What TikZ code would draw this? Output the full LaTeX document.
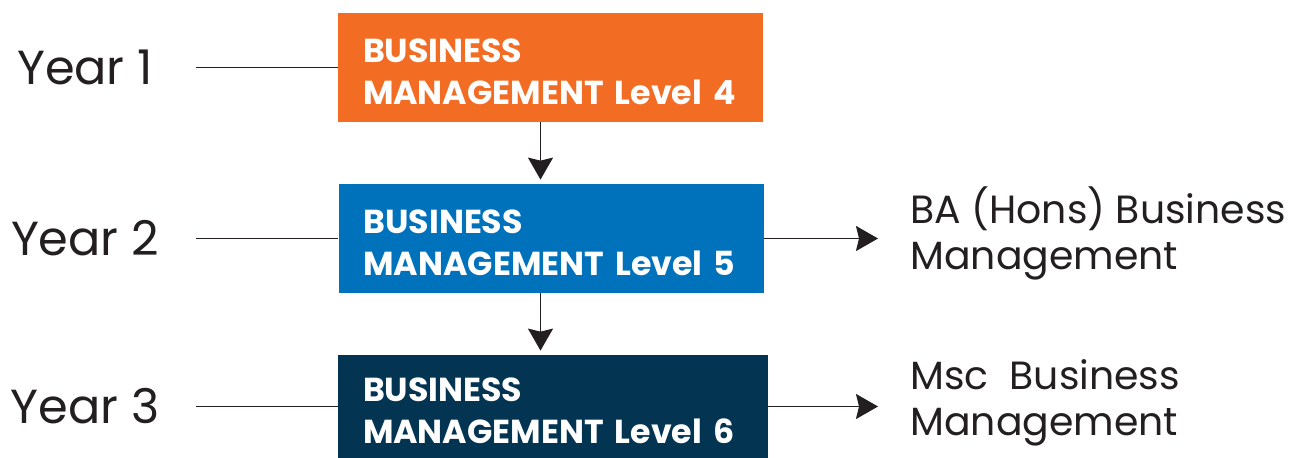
\documentclass[tikz,border=0pt]{standalone}
\usepackage{fontspec}
\setmainfont{Poppins}
\usepackage{xcolor}
\usepackage{tikz}
\usetikzlibrary{arrows.meta}

\definecolor{lvlorange}{RGB}{242,108,35}
\definecolor{lvlblue}{RGB}{0,114,188}
\definecolor{lvlnavy}{RGB}{3,52,82}
\definecolor{inkgrey}{RGB}{35,31,32}

\begin{document}
\begin{tikzpicture}[
  levelbox/.style={rectangle, minimum width=8.5cm, minimum height=2.18cm,
    text width=7.5cm, inner xsep=0.5cm, align=left, text=white,
    font=\fontsize{18.9}{23.9}\selectfont\bfseries},
  yearlbl/.style={minimum width=4.44cm, inner sep=0pt, text=inkgrey,
    font=\fontsize{27.2}{32}\selectfont},
  awardlbl/.style={anchor=west, inner xsep=0.64cm, inner ysep=0pt, align=left,
    text=inkgrey, font=\fontsize{22.4}{26.2}\selectfont},
  link/.style={draw=inkgrey, line width=1.1pt},
  flow/.style={link, -{Stealth[length=0.44cm, width=0.5cm, inset=0.06cm]}}
]
\useasboundingbox (0,0) rectangle (25.84,-9.16);

% level boxes
\node[levelbox, fill=lvlorange] (b1) at (11.01,-1.35) {\rule{0pt}{0.63cm}BUSINESS\\MANAGEMENT Level 4};
\node[levelbox, fill=lvlblue] (b2) at (11.02,-4.77) {\rule{0pt}{0.63cm}BUSINESS\\MANAGEMENT Level 5};
\node[levelbox, fill=lvlnavy, minimum width=8.6cm, text width=7.6cm, minimum height=2.06cm] (b3) at (11.06,-8.13) {\rule{0pt}{0.63cm}BUSINESS\\MANAGEMENT Level 6};

% years
\node[yearlbl] (y1) at (1.7,-1.35) {Year 1};
\node[yearlbl] (y2) at (1.7,-4.77) {Year 2};
\node[yearlbl] (y3) at (1.7,-8.13) {Year 3};
\draw[link] (y1) -- (b1);
\draw[link] (y2) -- (b2);
\draw[link] (y3) -- (b3);

% progression
\draw[flow] ([xshift=-0.2cm]b1.south) -- ([xshift=-0.2cm,yshift=0.08cm]b1.south |- b2.north);
\draw[flow] ([xshift=-0.2cm]b1.south |- b2.south) -- ([xshift=-0.2cm,yshift=0.08cm]b1.south |- b3.north);

% awards
\node[awardlbl] (a2) at (17.56,-4.66) {BA (Hons) Business\\Management};
\node[awardlbl] (a3) at (17.56,-8.06) {Msc\ \ Business\\Management};
\draw[flow] (b2.east) -- (b2.east -| a2.west);
\draw[flow] (b3.east) -- (b3.east -| a3.west);
\end{tikzpicture}
\end{document}
